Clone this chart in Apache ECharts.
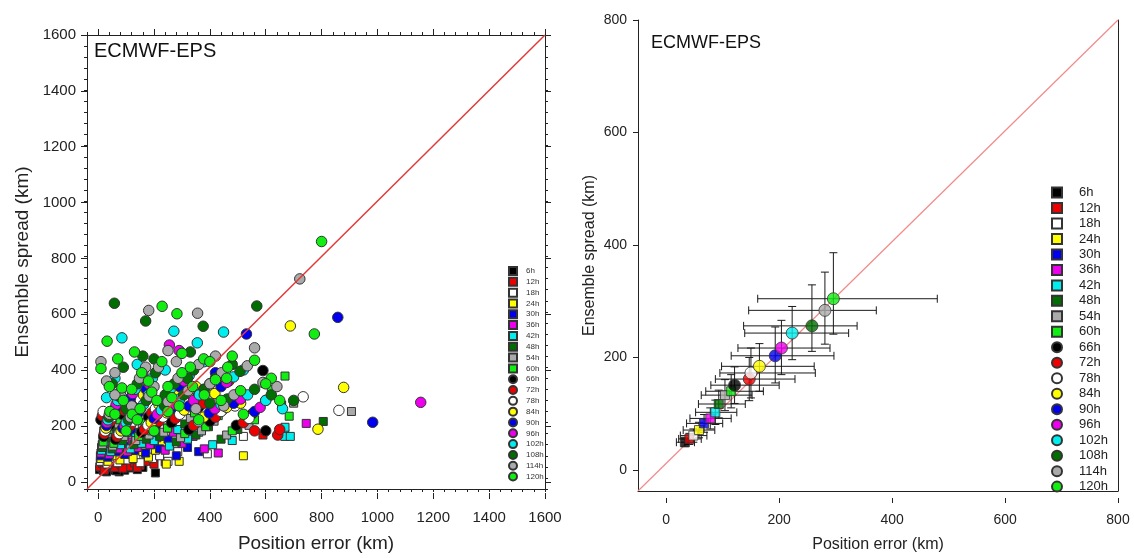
<!DOCTYPE html>
<html>
<head>
<meta charset="utf-8">
<script src="https://cdn.jsdelivr.net/npm/echarts@6/dist/echarts.min.js"></script>
<style>
  html, body { margin: 0; padding: 0; background: #fff; }
  #chart { width: 1134px; height: 558px; }
</style>
</head>
<body>
<div id="chart"></div>
<script>
// lead times (legend order)
const leads = ['6h', '12h', '18h', '24h', '30h', '36h', '42h', '48h', '54h', '60h',
  '66h', '72h', '78h', '84h', '90h', '96h', '102h', '108h', '114h', '120h'];
const leadColors = ['#000000', '#ee0000', '#ffffff', '#ffff00', '#0000ee', '#ee00ee', '#00eeee', '#006e00', '#aaaaaa', '#11ee11',
  '#000000', '#ee0000', '#ffffff', '#ffff00', '#0000ee', '#ee00ee', '#00eeee', '#006e00', '#aaaaaa', '#11ee11'];

// left panel: individual cases [position error, ensemble spread] (km)
const pts6h = [[5,30],[12,38],[20,25],[28,42],[35,33],[44,28],[50,45],[60,35],[72,30],[85,40],[95,28],[110,36],[125,42],[140,30],[160,38],[205,18],[8,55],[18,48],[30,22],[55,52],[75,22],[100,50],[15,35],[40,40],[65,26]];
const pts12h = [[6,40],[15,52],[25,35],[38,60],[48,45],[58,38],[70,55],[82,48],[95,62],[110,40],[130,55],[150,45],[175,60],[200,50],[10,70],[22,28],[45,75],[88,35],[120,68],[35,48],[62,66],[140,38],[240,58],[590,155]];
const pts18h = [[8,60],[20,75],[32,50],[45,90],[58,70],[70,55],[85,85],[100,65],[118,95],[135,72],[150,55],[170,88],[195,70],[220,80],[250,60],[285,95],[12,110],[40,120],[75,105],[160,118],[391,87],[668,161],[520,150]];
const pts24h = [[10,70],[22,90],[35,60],[48,105],[62,80],[78,65],[92,110],[108,85],[125,70],[140,120],[160,95],[180,75],[205,100],[230,130],[244,50],[290,60],[15,120],[55,135],[95,140],[520,80]];
const pts30h = [[8,80],[20,100],[35,75],[50,120],[65,95],[80,140],[95,85],[112,115],[130,100],[150,135],[170,90],[195,120],[220,105],[250,140],[280,80],[320,110],[360,95],[18,145],[60,160],[120,165]];
const pts36h = [[10,90],[25,115],[40,85],[55,135],[72,105],[88,150],[105,95],[122,130],[140,110],[160,160],[185,120],[210,145],[240,100],[270,165],[300,125],[340,150],[380,105],[430,90],[745,197],[20,170]];
const pts42h = [[12,100],[28,130],[45,95],[62,155],[80,120],[98,170],[115,105],[135,145],[155,125],[178,180],[200,135],[225,160],[255,115],[285,175],[320,140],[360,165],[410,120],[480,135],[668,150],[688,150],[669,183],[30,190]];
const pts48h = [[15,110],[30,145],[50,105],[68,175],[88,135],[108,190],[128,120],[150,165],[172,140],[195,200],[220,150],[248,180],[280,130],[310,195],[350,155],[395,185],[440,140],[500,175],[657,263],[806,204],[25,200]];
const pts54h = [[15,120],[32,160],[52,115],[72,195],[92,150],[115,210],[135,135],[158,180],[182,155],[208,220],[235,165],[265,200],[295,145],[330,215],[370,170],[415,205],[460,155],[540,190],[907,240],[700,270]];
const pts60h = [[18,130],[36,175],[56,125],[78,210],[100,165],[122,230],[145,150],[168,200],[192,170],[220,240],[248,180],[278,220],[310,160],[345,235],[385,185],[430,225],[480,170],[560,210],[669,368],[684,223],[620,320]];
const pts66h = [[20,150],[40,190],[62,140],[85,230],[108,180],[130,250],[155,165],[180,220],[205,190],[232,260],[262,200],[292,240],[325,175],[360,255],[400,205],[445,245],[495,190],[550,230],[590,388],[600,170],[10,210]];
const pts72h = [[22,160],[45,205],[68,150],[92,245],[116,190],[140,265],[166,175],[192,235],[218,205],[246,275],[276,215],[308,255],[342,190],[378,270],[420,220],[468,350],[520,200],[560,170],[643,155],[15,225],[650,175]];
const pts78h = [[25,170],[50,220],[75,160],[100,260],[125,205],[150,285],[178,190],[205,250],[232,220],[262,295],[292,230],[325,270],[360,205],[398,290],[440,240],[490,260],[540,215],[600,280],[734,293],[862,244],[18,240]];
const pts84h = [[28,180],[55,235],[82,170],[108,275],[135,220],[162,300],[190,200],[218,265],[246,235],[276,310],[308,245],[342,285],[378,220],[418,305],[460,255],[510,270],[688,549],[879,327],[787,176],[350,330]];
const pts90h = [[30,190],[60,250],[88,180],[116,290],[144,235],[172,320],[200,215],[230,280],[260,250],[292,330],[325,260],[360,300],[398,235],[440,330],[485,270],[531,520],[858,580],[983,201],[560,240],[420,380]];
const pts96h = [[32,200],[64,265],[94,190],[124,305],[152,250],[182,340],[212,230],[244,300],[276,265],[308,350],[342,280],[378,320],[418,250],[460,345],[510,285],[1155,273],[580,255],[255,480],[290,460],[160,380]];
const pts102h = [[35,210],[70,280],[100,200],[132,320],[162,265],[194,360],[226,245],[258,320],[292,285],[326,370],[362,300],[400,340],[440,265],[485,365],[535,300],[600,280],[85,506],[271,530],[449,527],[355,488],[30,290],[140,410],[520,390],[660,250],[110,240],[180,300],[60,360],[240,390],[380,420]];
const pts108h = [[38,220],[75,295],[108,210],[140,340],[172,280],[205,380],[238,260],[272,340],[306,300],[342,390],[380,320],[420,360],[462,285],[508,385],[560,320],[620,300],[58,631],[170,567],[376,548],[568,621],[200,430],[330,455],[90,400],[480,410],[700,280],[100,250],[240,300],[320,360],[160,440],[50,340],[400,270]];
const pts114h = [[40,230],[80,310],[115,220],[148,360],[182,295],[216,400],[250,275],[286,360],[322,315],[360,410],[400,340],[442,380],[486,300],[534,405],[590,345],[181,605],[356,595],[722,719],[10,420],[60,380],[250,460],[420,440],[640,330],[560,470],[350,250],[120,260],[200,330],[60,300],[280,420],[30,350],[450,260],[170,400]];
const pts120h = [[42,240],[85,325],[122,230],[156,380],[192,310],[228,420],[264,290],[300,380],[338,330],[378,430],[420,355],[464,400],[510,315],[560,425],[620,360],[229,620],[282,593],[800,854],[774,520],[32,494],[10,395],[70,430],[130,455],[300,450],[480,440],[600,340],[650,280],[440,280],[360,210],[200,170],[100,170],[520,230],[150,250],[250,240],[180,350],[380,300],[90,280],[40,330],[330,400],[250,330],[120,320],[60,230],[400,420],[460,360],[210,280],[290,260],[140,210]];
const leftPoints = [pts6h, pts12h, pts18h, pts24h, pts30h, pts36h, pts42h, pts48h, pts54h, pts60h,
  pts66h, pts72h, pts78h, pts84h, pts90h, pts96h, pts102h, pts108h, pts114h, pts120h];

// right panel: mean position error / spread with error bars (km)
const meanErr    = [33, 41, 48, 58, 67, 78, 87, 93, 104, 115, 121, 147, 150, 165, 193, 204, 223, 258, 281, 296];
const meanSpread = [38, 44, 50, 60, 72, 81, 92, 107, 123, 130, 141, 152, 163, 175, 194, 208, 235, 248, 276, 297];
const errLo = [18, 22, 25, 30, 36, 42, 52, 57, 62, 70, 79, 87, 95, 98, 115, 127, 139, 137, 146, 162];
const errHi = [50, 62, 72, 86, 100, 115, 125, 140, 152, 172, 200, 228, 264, 262, 297, 290, 323, 338, 372, 480];
const sprLo = [30, 34, 38, 46, 56, 62, 70, 82, 95, 100, 108, 113, 118, 130, 145, 160, 187, 202, 215, 233];
const sprHi = [47, 54, 62, 74, 88, 100, 114, 132, 151, 160, 174, 191, 208, 216, 246, 258, 283, 322, 345, 380];

const diagLeft = [[-40, -40], [1600, 1600]];
const diagRight = [[-50, -50], [800, 800]];

const font = '"Liberation Sans", Arial, sans-serif';
const ink = '#222';
const axisLine = { show: true, onZero: false, lineStyle: { color: ink, width: 1 } };
const plain = (v) => String(v);

// left panel layout (data range -40..1600, labelled ticks from 0)
const L = { left: 87, top: 35, size: 458, min: -40, max: 1600 };
const lPad = (0 - L.min) * L.size / (L.max - L.min);
// right panel layout (data range -50..800, labelled ticks from 0)
const R = { left: 638, top: 20, width: 480, height: 478, min: -50, max: 800 };
const rPadX = (0 - R.min) * R.width / (R.max - R.min);
const rPadY = (0 - R.min) * R.height / (R.max - R.min);

const chart = echarts.init(document.getElementById('chart'));

function hiddenAxis(grid) {
  return { type: 'value', gridIndex: grid, show: false, min: 0, max: 1 };
}
function minorAxis(grid, pos, name, gap) {
  return {
    type: 'value', gridIndex: grid, position: pos, min: L.min, max: L.max, interval: 40,
    axisLine: axisLine, axisTick: { show: true, length: 3, lineStyle: { color: ink } },
    axisLabel: { show: false }, splitLine: { show: false },
    name: name || '', nameLocation: 'middle', nameGap: gap || 0,
    nameTextStyle: { fontSize: 19, color: ink, fontFamily: font }
  };
}
function majorAxis(grid, pos, labels, max, len, size, margin) {
  return {
    type: 'value', gridIndex: grid, position: pos, min: 0, max: max, interval: 200,
    axisLine: { show: false }, axisTick: { show: true, length: len, lineStyle: { color: ink } },
    axisLabel: { show: labels, fontSize: size, color: ink, fontFamily: font, margin: margin, formatter: plain },
    splitLine: { show: false }
  };
}

function renderErr(params, api) {
  const x = api.value(0), y = api.value(1);
  const l = api.coord([api.value(2), y]);
  const r = api.coord([api.value(3), y]);
  const b = api.coord([x, api.value(4)]);
  const t = api.coord([x, api.value(5)]);
  const cap = 4;
  const st = { stroke: '#1a1a1a', lineWidth: 1 };
  return {
    type: 'group',
    children: [
      { type: 'line', shape: { x1: l[0], y1: l[1], x2: r[0], y2: r[1] }, style: st },
      { type: 'line', shape: { x1: l[0], y1: l[1] - cap, x2: l[0], y2: l[1] + cap }, style: st },
      { type: 'line', shape: { x1: r[0], y1: r[1] - cap, x2: r[0], y2: r[1] + cap }, style: st },
      { type: 'line', shape: { x1: b[0], y1: b[1], x2: t[0], y2: t[1] }, style: st },
      { type: 'line', shape: { x1: b[0] - cap, y1: b[1], x2: b[0] + cap, y2: b[1] }, style: st },
      { type: 'line', shape: { x1: t[0] - cap, y1: t[1], x2: t[0] + cap, y2: t[1] }, style: st }
    ]
  };
}

const series = [];
leads.forEach((name, i) => {
  series.push({
    type: 'scatter', name: name, xAxisIndex: 0, yAxisIndex: 0,
    data: leftPoints[i],
    symbol: i < 10 ? 'rect' : 'circle',
    symbolSize: i < 10 ? 8 : 10.5,
    itemStyle: { color: leadColors[i], borderColor: '#333', borderWidth: 1, opacity: 1 },
    z: 2
  });
});
series.push({
  type: 'line', xAxisIndex: 0, yAxisIndex: 0, data: diagLeft, showSymbol: false, silent: true,
  lineStyle: { color: '#e03a3a', width: 1.5 }, z: 5
});
series.push({
  type: 'line', xAxisIndex: 5, yAxisIndex: 5, data: diagRight, showSymbol: false, silent: true,
  lineStyle: { color: '#f28a8a', width: 1.2 }, z: 1
});
series.push({
  type: 'custom', xAxisIndex: 5, yAxisIndex: 5, renderItem: renderErr, silent: true,
  data: leads.map((_, i) => [meanErr[i], meanSpread[i], errLo[i], errHi[i], sprLo[i], sprHi[i]]),
  encode: { x: [0, 2, 3], y: [1, 4, 5] }, z: 2
});
leads.forEach((name, i) => {
  series.push({
    type: 'scatter', name: name, xAxisIndex: 5, yAxisIndex: 5,
    data: [[meanErr[i], meanSpread[i]]],
    symbol: i < 10 ? 'rect' : 'circle',
    symbolSize: i < 10 ? 9 : 12,
    itemStyle: { color: leadColors[i], borderColor: '#333', borderWidth: 1 },
    z: 3
  });
});

const option = {
  animation: false,
  backgroundColor: '#fff',
  textStyle: { fontFamily: font },
  title: [
    { text: 'ECMWF-EPS', left: 89, top: 36, textStyle: { fontSize: 20, fontWeight: 'normal', color: '#111', fontFamily: font } },
    { text: 'ECMWF-EPS', left: 646, top: 29, textStyle: { fontSize: 18, fontWeight: 'normal', color: '#111', fontFamily: font } }
  ],
  grid: [
    // 0: left data
    { left: L.left, top: L.top, width: L.size, height: L.size },
    // 1: left x major ticks (0..1600)
    { left: L.left + lPad, top: L.top, width: L.size - lPad, height: L.size },
    // 2: left y major ticks (0..1600)
    { left: L.left, top: L.top, width: L.size, height: L.size - lPad },
    // 3: right data
    { left: R.left, top: R.top, width: R.width, height: R.height },
    // 4: right x major ticks
    { left: R.left + rPadX, top: R.top, width: R.width - rPadX, height: R.height },
    // 5: right y major ticks
    { left: R.left, top: R.top, width: R.width, height: R.height - rPadY }
  ],
  xAxis: [
    minorAxis(0, 'bottom', 'Position error (km)', 45),          // 0
    minorAxis(0, 'top'),                                         // 1
    majorAxis(1, 'bottom', true, 1600, 6, 15, 17),               // 2
    majorAxis(1, 'top', false, 1600, 6, 15, 8),                  // 3
    hiddenAxis(2),                                               // 4
    {                                                            // 5
      type: 'value', gridIndex: 3, position: 'bottom', min: R.min, max: R.max,
      axisLine: axisLine, axisTick: { show: false }, axisLabel: { show: false }, splitLine: { show: false },
      name: 'Position error (km)', nameLocation: 'middle', nameGap: 46,
      nameTextStyle: { fontSize: 16, color: ink, fontFamily: font }
    },
    majorAxis(4, 'bottom', true, 800, 5, 14, 15),               // 6
    hiddenAxis(5)                                                // 7
  ],
  yAxis: [
    minorAxis(0, 'left', 'Ensemble spread (km)', 55),           // 0
    minorAxis(0, 'right'),                                       // 1
    hiddenAxis(1),                                               // 2
    majorAxis(2, 'left', true, 1600, 6, 15, 11),                 // 3
    majorAxis(2, 'right', false, 1600, 6, 15, 8),                // 4
    {                                                            // 5
      type: 'value', gridIndex: 3, position: 'left', min: R.min, max: R.max,
      axisLine: axisLine, axisTick: { show: false }, axisLabel: { show: false }, splitLine: { show: false },
      name: 'Ensemble spread (km)', nameLocation: 'middle', nameGap: 40,
      nameTextStyle: { fontSize: 16, color: ink, fontFamily: font }
    },
    {                                                            // 6
      type: 'value', gridIndex: 3, position: 'right', min: R.min, max: R.max,
      axisLine: axisLine, axisTick: { show: false }, axisLabel: { show: false }, splitLine: { show: false }
    },
    hiddenAxis(4),                                               // 7
    majorAxis(5, 'left', true, 800, 5, 14, 11)                   // 8
  ],
  legend: [
    {
      data: leads, orient: 'vertical', left: 508, top: 266, padding: 0,
      itemWidth: 8, itemHeight: 8, itemGap: 0.82, selectedMode: false,
      textStyle: { fontSize: 8, color: '#333', lineHeight: 8, padding: [0, 0, 0, 4], fontFamily: font }
    },
    {
      data: leads, orient: 'vertical', left: 1051, top: 186, padding: 0,
      itemWidth: 10, itemHeight: 10, itemGap: 2.48, selectedMode: false,
      textStyle: { fontSize: 13, color: '#222', lineHeight: 10, padding: [0, 0, 0, 12], fontFamily: font }
    }
  ],
  series: series
};

chart.setOption(option);
</script>
</body>
</html>
